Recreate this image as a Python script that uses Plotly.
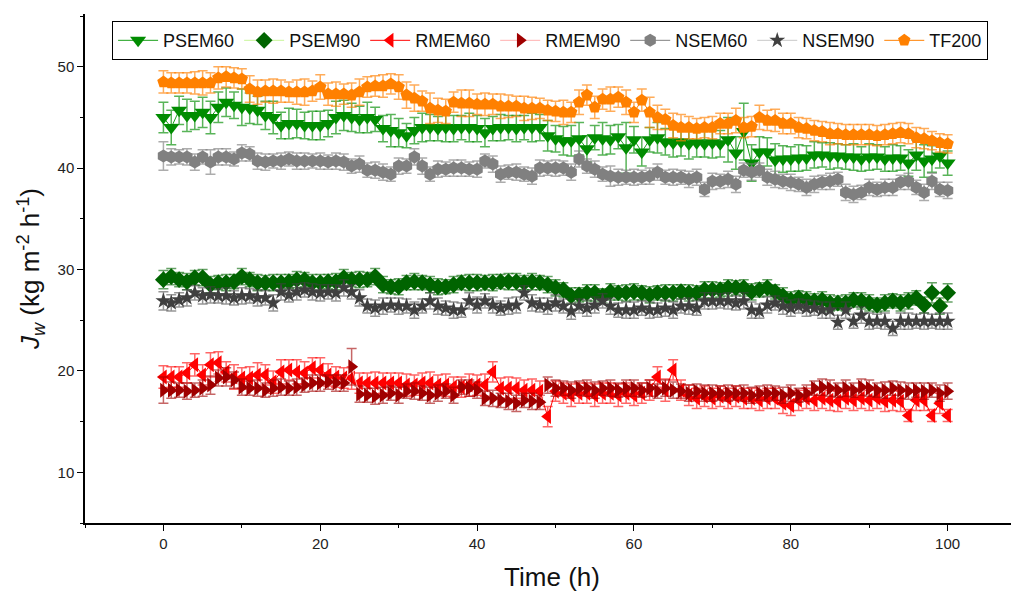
import plotly.graph_objects as go

time_h = list(range(0, 101))

PSEM60 = [45.0, 44.0, 45.7, 45.2, 45.2, 45.5, 45.0, 46.0, 46.5, 46.2,
          46.0, 45.9, 45.7, 45.2, 45.0, 44.2, 44.4, 44.4, 44.2, 44.2,
          44.2, 44.4, 45.0, 45.2, 45.0, 44.8, 45.0, 44.8, 43.9, 43.7,
          43.5, 43.2, 43.7, 44.0, 44.0, 43.9, 44.0, 43.9, 44.0, 44.0,
          43.9, 43.5, 43.9, 44.0, 44.0, 43.9, 44.0, 44.0, 44.0, 43.2,
          42.9, 42.7, 42.7, 42.9, 41.9, 43.0, 42.9, 42.8, 43.1, 42.0,
          42.8, 41.6, 42.8, 43.0, 42.6, 42.5, 42.6, 42.4, 42.5, 42.4,
          42.5, 42.4, 42.8, 41.5, 43.6, 40.5, 41.6, 41.6, 40.8, 40.9,
          40.9, 41.0, 41.0, 41.3, 41.3, 41.2, 41.2, 41.1, 41.1, 40.9,
          41.1, 41.1, 40.9, 41.0, 41.0, 40.5, 41.3, 40.7, 40.9, 41.2,
          40.5]
PSEM60_err = [1.5, 1.7, 1.4, 1.6, 1.4, 1.5, 1.6, 1.5, 1.4, 1.3,
              1.8, 1.5, 1.4, 1.4, 1.6, 1.3, 1.5, 1.4, 1.3, 1.4,
              1.4, 1.3, 1.6, 1.5, 1.4, 1.3, 1.5, 1.2, 1.3, 1.6,
              1.4, 1.2, 1.3, 1.4, 1.3, 1.2, 1.4, 1.3, 1.2, 1.4,
              1.3, 1.4, 1.2, 1.3, 1.2, 1.3, 1.2, 1.4, 1.3, 1.5,
              1.3, 1.4, 1.5, 1.6, 1.3, 1.2, 1.6, 1.4, 1.2, 2.5,
              1.3, 1.4, 1.2, 1.5, 1.3, 1.4, 1.4, 1.5, 1.4, 1.3,
              1.5, 1.3, 2.2, 1.6, 2.8, 1.8, 1.5, 1.4, 1.6, 1.3,
              1.2, 1.3, 1.2, 1.3, 1.2, 1.3, 1.2, 1.2, 1.3, 1.2,
              1.3, 1.2, 1.2, 1.3, 1.2, 1.3, 1.5, 1.6, 1.3, 1.2,
              1.2]

PSEM90 = [29.0, 29.3, 29.0, 28.8, 29.2, 29.2, 28.5, 28.7, 28.7, 28.8,
          29.3, 29.0, 28.7, 28.7, 28.7, 28.7, 28.8, 29.0, 29.0, 28.7,
          28.7, 28.8, 28.8, 29.2, 29.0, 29.0, 29.0, 29.3, 28.5, 28.3,
          28.3, 28.7, 28.8, 28.7, 28.5, 28.3, 28.3, 28.5, 28.7, 28.7,
          28.7, 28.7, 28.7, 28.8, 28.8, 28.8, 28.7, 28.8, 28.7, 28.5,
          28.2, 28.0, 27.4, 27.5, 27.7, 27.7, 27.4, 27.8, 27.7, 27.7,
          27.8, 27.7, 27.5, 27.7, 27.7, 27.7, 27.8, 27.7, 27.7, 28.0,
          28.0, 28.0, 28.2, 28.2, 28.2, 27.8, 28.0, 28.2, 27.8, 27.4,
          27.0, 27.2, 27.0, 26.9, 27.0, 26.7, 26.7, 26.7, 27.0, 26.9,
          26.7, 26.5, 26.7, 26.9, 26.7, 26.9, 27.2, 26.5, 27.7, 26.4,
          27.7]
PSEM90_err = [0.9, 0.8, 0.7, 0.8, 0.7, 0.8, 0.8, 0.7, 0.8, 0.7,
              0.8, 0.7, 0.8, 0.7, 0.8, 0.8, 0.7, 0.8, 0.7, 0.8,
              0.8, 0.7, 0.8, 0.8, 0.7, 0.8, 0.7, 0.8, 0.8, 0.7,
              0.8, 0.7, 0.8, 0.7, 0.8, 0.8, 0.7, 0.8, 0.7, 0.8,
              0.8, 0.7, 0.8, 0.7, 0.8, 0.8, 0.7, 0.8, 0.7, 0.8,
              0.8, 0.7, 0.8, 0.7, 0.8, 0.8, 0.7, 0.8, 0.7, 0.8,
              0.8, 0.7, 0.8, 0.7, 0.8, 0.8, 0.7, 0.8, 0.7, 0.8,
              0.8, 0.7, 0.8, 0.7, 0.8, 0.8, 0.7, 0.8, 0.7, 0.8,
              0.8, 0.7, 0.8, 0.7, 0.8, 0.8, 0.7, 0.8, 0.7, 0.8,
              0.8, 0.7, 0.8, 0.7, 0.8, 0.8, 0.7, 0.8, 1.0, 0.8,
              0.9]

RMEM60 = [19.4, 19.4, 19.4, 19.8, 20.6, 19.6, 20.6, 20.8, 19.9, 19.4,
          19.3, 19.3, 19.6, 19.6, 18.9, 19.9, 20.1, 19.9, 19.8, 20.3,
          20.1, 19.6, 19.4, 19.3, 19.3, 18.8, 18.8, 18.8, 18.8, 18.8,
          18.8, 18.6, 18.6, 18.8, 18.8, 18.6, 18.6, 18.4, 18.4, 18.6,
          18.6, 18.6, 19.9, 18.3, 18.3, 18.3, 18.1, 18.1, 18.0, 15.5,
          18.0, 17.8, 17.6, 17.8, 17.8, 17.6, 17.8, 17.8, 17.6, 17.8,
          17.6, 17.8, 18.1, 19.4, 18.1, 20.1, 18.1, 17.6, 17.3, 17.5,
          17.3, 17.5, 17.3, 17.5, 17.3, 17.3, 17.1, 17.3, 17.3, 16.8,
          16.6, 17.1, 17.3, 17.1, 17.3, 17.1, 17.0, 17.3, 17.1, 17.3,
          17.1, 17.3, 17.0, 17.1, 17.0, 15.6, 17.1, 17.1, 15.6, 16.8,
          15.6]
RMEM60_err = [1.1, 1.0, 1.0, 1.0, 1.1, 1.0, 1.2, 1.1, 1.0, 1.2,
              1.0, 1.1, 1.2, 1.0, 1.1, 1.2, 1.0, 1.2, 1.1, 1.0,
              1.2, 1.1, 1.0, 1.0, 1.1, 1.0, 1.0, 1.1, 1.0, 1.0,
              1.0, 1.1, 1.0, 1.0, 1.1, 1.0, 1.1, 1.0, 1.0, 1.1,
              1.0, 1.1, 1.0, 1.0, 1.1, 1.0, 1.0, 1.1, 1.0, 1.0,
              1.0, 1.0, 1.1, 1.0, 1.0, 1.1, 1.0, 1.0, 1.1, 1.0,
              1.0, 1.0, 1.0, 1.0, 1.1, 1.0, 1.0, 1.0, 1.0, 1.0,
              1.0, 1.0, 1.0, 1.0, 1.0, 1.0, 1.0, 1.0, 1.0, 1.0,
              1.0, 1.0, 1.0, 1.0, 1.0, 1.0, 1.0, 1.0, 1.0, 1.0,
              1.0, 1.0, 1.0, 1.0, 1.0, 0.6, 1.0, 1.0, 0.6, 1.0,
              0.6]

RMEM90 = [18.1, 18.1, 18.1, 18.0, 18.1, 18.3, 18.6, 19.3, 19.4, 19.1,
          18.4, 18.3, 18.3, 18.1, 18.3, 18.4, 18.3, 18.4, 18.6, 18.8,
          18.8, 18.9, 18.8, 18.8, 20.4, 17.7, 17.6, 17.5, 17.6, 17.8,
          17.6, 18.0, 18.0, 17.8, 17.6, 17.8, 18.0, 17.6, 18.4, 18.3,
          18.1, 17.3, 17.3, 17.1, 17.0, 16.8, 17.1, 17.0, 16.9, 18.6,
          18.3, 18.3, 18.1, 18.3, 18.3, 18.1, 18.3, 18.3, 18.1, 18.3,
          18.3, 18.1, 18.3, 18.0, 18.3, 18.1, 18.0, 17.8, 18.0, 17.8,
          17.8, 17.8, 17.8, 17.8, 17.8, 17.6, 17.8, 17.8, 17.8, 17.6,
          17.8, 17.6, 17.8, 18.3, 18.4, 18.3, 18.1, 18.3, 18.1, 18.4,
          18.3, 18.1, 18.1, 18.3, 18.1, 18.0, 18.1, 18.0, 18.1, 17.8,
          18.0]
RMEM90_err = [1.3, 0.8, 0.7, 0.8, 0.7, 0.8, 0.9, 0.8, 0.9, 0.8,
              0.8, 0.7, 0.8, 0.7, 0.8, 0.8, 0.7, 0.8, 0.7, 0.8,
              0.8, 0.7, 0.8, 0.8, 1.8, 0.8, 0.7, 0.8, 0.8, 0.7,
              0.8, 0.7, 0.8, 0.7, 0.8, 0.8, 0.7, 0.8, 0.7, 0.8,
              0.8, 0.7, 0.8, 0.7, 0.8, 0.8, 0.7, 0.8, 0.7, 0.8,
              0.8, 0.7, 0.8, 0.7, 0.8, 0.8, 0.7, 0.8, 0.7, 0.8,
              0.8, 0.7, 0.8, 0.7, 0.8, 0.8, 0.7, 0.8, 0.7, 0.8,
              0.8, 0.7, 0.8, 0.7, 0.8, 0.8, 0.7, 0.8, 0.7, 0.8,
              0.8, 0.7, 0.8, 0.7, 0.8, 0.8, 0.7, 0.8, 0.7, 0.8,
              0.8, 0.7, 0.8, 0.7, 0.8, 0.8, 0.7, 0.8, 0.7, 0.8,
              0.8]

NSEM60 = [41.2, 41.1, 41.1, 41.1, 40.6, 41.1, 40.6, 41.1, 41.1, 40.9,
          41.5, 41.4, 40.7, 40.6, 40.7, 40.7, 40.9, 40.7, 40.7, 40.7,
          40.7, 40.6, 40.7, 40.6, 40.2, 40.4, 39.8, 39.8, 39.6, 39.4,
          40.2, 40.2, 41.1, 40.2, 39.4, 39.9, 39.9, 40.0, 40.0, 39.9,
          39.9, 40.7, 40.4, 39.4, 39.6, 39.6, 39.4, 39.2, 40.0, 40.0,
          40.0, 40.0, 39.6, 40.9, 40.2, 39.9, 39.4, 39.2, 39.1, 39.1,
          39.1, 39.1, 39.2, 39.6, 39.1, 39.1, 39.1, 38.9, 39.1, 37.9,
          38.7, 38.7, 38.9, 38.4, 39.8, 39.6, 39.8, 39.1, 38.9, 38.7,
          38.6, 38.4, 38.1, 38.4, 38.6, 38.7, 38.9, 37.6, 37.4, 37.6,
          38.1, 37.9, 38.1, 38.1, 38.6, 38.7, 38.1, 37.6, 38.7, 37.9,
          37.8]
NSEM60_err = [1.4, 0.8, 0.7, 0.8, 0.8, 0.7, 1.2, 0.8, 0.8, 0.7,
              0.8, 0.7, 0.8, 0.8, 0.7, 0.8, 0.7, 0.8, 0.8, 0.7,
              0.8, 0.7, 0.8, 0.8, 0.7, 0.8, 0.7, 0.8, 0.8, 0.7,
              0.8, 0.7, 0.8, 0.8, 0.7, 0.8, 0.7, 0.8, 0.8, 0.7,
              0.8, 0.7, 0.8, 0.8, 0.7, 0.8, 0.7, 0.8, 0.8, 0.7,
              0.8, 0.7, 0.8, 0.8, 0.7, 0.8, 0.7, 1.0, 0.8, 0.7,
              0.8, 0.7, 0.8, 0.8, 0.7, 0.8, 0.7, 0.8, 0.8, 0.7,
              0.8, 0.7, 0.8, 0.8, 0.7, 0.8, 0.7, 0.8, 0.8, 0.7,
              0.8, 0.7, 0.8, 0.8, 0.7, 0.8, 0.7, 0.8, 0.8, 0.7,
              0.8, 0.7, 0.8, 0.8, 0.7, 0.8, 0.7, 0.8, 0.8, 0.7,
              0.8]

NSEM90 = [26.9, 26.7, 27.0, 27.2, 27.7, 27.4, 27.5, 27.4, 27.4, 27.2,
          27.4, 27.4, 27.2, 27.2, 26.7, 27.8, 27.5, 27.8, 28.0, 27.8,
          27.7, 27.8, 27.7, 28.2, 27.8, 27.2, 26.4, 26.2, 26.4, 26.5,
          26.4, 26.4, 26.0, 26.4, 26.9, 26.4, 26.2, 26.0, 26.0, 26.9,
          26.5, 26.9, 26.5, 26.2, 26.4, 26.5, 27.7, 26.7, 26.5, 26.4,
          26.7, 26.4, 25.9, 26.4, 26.2, 26.5, 26.9, 26.4, 26.0, 26.0,
          26.0, 26.2, 26.0, 26.0, 26.2, 26.0, 26.4, 26.4, 26.2, 26.9,
          26.9, 26.9, 26.9, 26.7, 26.9, 26.0, 25.9, 26.5, 26.7, 26.4,
          26.2, 26.4, 26.2, 26.2, 26.0, 26.0, 24.8, 26.0, 24.9, 25.5,
          24.9, 24.9, 24.9, 24.2, 24.9, 24.9, 24.9, 24.9, 24.9, 24.9,
          24.9]
NSEM90_err = [0.9, 0.8, 0.7, 0.8, 0.7, 0.8, 0.8, 0.7, 0.8, 0.7,
              0.8, 0.7, 0.8, 0.7, 0.8, 0.8, 0.7, 0.8, 0.7, 0.8,
              0.8, 0.7, 0.8, 0.8, 0.7, 0.8, 0.7, 0.8, 0.8, 0.7,
              0.8, 0.7, 0.8, 0.7, 0.8, 0.8, 0.7, 0.8, 0.7, 0.8,
              0.8, 0.7, 0.8, 0.7, 0.8, 0.8, 0.7, 0.8, 0.7, 0.8,
              0.8, 0.7, 0.8, 0.7, 0.8, 0.8, 0.7, 0.8, 0.7, 0.8,
              0.8, 0.7, 0.8, 0.7, 0.8, 0.8, 0.7, 0.8, 0.7, 0.8,
              0.8, 0.7, 0.8, 0.7, 0.8, 0.8, 0.7, 0.8, 0.7, 0.8,
              0.8, 0.7, 0.8, 0.7, 0.8, 0.8, 0.7, 0.8, 0.7, 0.8,
              0.8, 0.7, 0.8, 0.7, 0.8, 0.8, 0.7, 0.8, 0.7, 0.8,
              0.8]

TF200 = [48.5, 48.4, 48.4, 48.4, 48.4, 48.4, 48.4, 48.9, 49.0, 48.9,
         48.8, 47.8, 47.5, 47.6, 47.6, 47.6, 47.5, 47.5, 47.5, 47.6,
         48.0, 47.3, 47.3, 47.3, 47.2, 47.5, 48.0, 48.1, 48.1, 48.3,
         48.0, 47.2, 46.9, 46.6, 45.9, 45.7, 45.6, 46.5, 46.4, 46.4,
         46.3, 46.3, 46.3, 46.1, 46.1, 46.1, 45.9, 45.9, 45.9, 45.7,
         45.6, 45.5, 45.5, 46.5, 47.2, 46.0, 46.8, 46.8, 47.0, 46.5,
         45.5, 46.7, 45.5, 45.0, 44.8, 44.2, 44.0, 44.0, 43.9, 44.0,
         44.0, 44.4, 44.4, 44.7, 44.0, 44.1, 45.0, 44.7, 44.7, 44.4,
         44.4, 44.0, 43.9, 43.7, 43.6, 43.4, 43.4, 43.3, 43.3, 43.3,
         43.3, 43.2, 43.3, 43.4, 43.5, 43.4, 43.0, 42.9, 42.7, 42.5,
         42.4]
TF200_err = [1.1, 1.0, 1.0, 1.0, 1.1, 1.2, 1.0, 1.1, 1.0, 1.0,
             1.0, 1.3, 1.2, 1.1, 1.2, 1.1, 1.0, 1.2, 1.3, 1.0,
             1.2, 1.1, 1.2, 1.0, 1.2, 1.3, 1.0, 1.0, 1.1, 1.0,
             1.2, 1.3, 1.3, 1.0, 1.5, 1.2, 1.2, 1.0, 1.3, 1.3,
             1.0, 1.1, 1.0, 1.2, 1.1, 1.0, 1.2, 1.1, 1.0, 1.0,
             1.0, 1.2, 1.0, 1.2, 1.0, 1.1, 1.0, 1.2, 1.0, 1.2,
             1.0, 1.1, 1.5, 1.2, 1.0, 1.2, 1.3, 1.1, 1.0, 1.0,
             1.1, 1.0, 1.0, 1.2, 1.0, 1.0, 1.2, 1.0, 1.1, 1.0,
             1.0, 1.0, 1.0, 1.0, 1.0, 1.1, 1.0, 1.0, 1.0, 1.0,
             1.0, 1.0, 1.0, 1.0, 1.0, 1.0, 1.0, 1.0, 0.9, 0.9,
             0.9]

series_names = ["PSEM60", "PSEM90", "RMEM60", "RMEM90", "NSEM60", "NSEM90", "TF200"]
series_values = [PSEM60, PSEM90, RMEM60, RMEM90, NSEM60, NSEM90, TF200]
series_errors = [PSEM60_err, PSEM90_err, RMEM60_err, RMEM90_err, NSEM60_err, NSEM90_err, TF200_err]

styles = {
    "PSEM60": dict(symbol="triangle-down", mcolor="#008c00", lcolor="#1aa01a", ecolor="rgba(0,140,0,0.65)", size=14),
    "PSEM90": dict(symbol="diamond", mcolor="#006400", lcolor="#c8f59a", ecolor="rgba(0,100,0,0.6)", size=13),
    "RMEM60": dict(symbol="triangle-left", mcolor="#ff0000", lcolor="#ff0000", ecolor="rgba(255,0,0,0.6)", size=13),
    "RMEM90": dict(symbol="triangle-right", mcolor="#a00000", lcolor="#ffb0b0", ecolor="rgba(160,0,0,0.6)", size=13),
    "NSEM60": dict(symbol="hexagon", mcolor="#808080", lcolor="#808080", ecolor="rgba(128,128,128,0.65)", size=13),
    "NSEM90": dict(symbol="star", mcolor="#404040", lcolor="#c8c8c8", ecolor="rgba(64,64,64,0.55)", size=12),
    "TF200": dict(symbol="pentagon", mcolor="#ff8000", lcolor="#ff8000", ecolor="rgba(255,128,0,0.65)", size=13),
}

fig = go.Figure()
for name, vals, errs in zip(series_names, series_values, series_errors):
    st = styles[name]
    fig.add_trace(go.Scatter(
        x=time_h, y=vals, name=name, mode="lines+markers",
        line=dict(color=st["lcolor"], width=1),
        marker=dict(symbol=st["symbol"], color=st["mcolor"], size=st["size"], line=dict(width=0)),
        error_y=dict(type="data", array=errs, visible=True, color=st["ecolor"], thickness=1.5, width=5),
    ))

axis_font = dict(family="Liberation Sans, Arial, sans-serif", size=15, color="#222222")
fig.update_layout(
    width=1011, height=586,
    paper_bgcolor="white", plot_bgcolor="white",
    margin=dict(l=77, r=0, t=6, b=71, autoexpand=False),
    font=dict(family="Liberation Sans, Arial, sans-serif", color="#111111"),
    showlegend=True,
    legend=dict(
        orientation="h", x=0.029, xanchor="left", y=0.986, yanchor="top",
        bordercolor="black", borderwidth=1, bgcolor="white",
        font=dict(size=18, family="Liberation Sans, Arial, sans-serif", color="#111111"),
        itemwidth=40, tracegroupgap=0,
    ),
    xaxis=dict(
        range=[-10, 109.1], tick0=0, dtick=20, showgrid=False, zeroline=False,
        showline=True, linecolor="black", linewidth=1.5, automargin=False,
        ticks="outside", ticklen=6, tickwidth=1, tickcolor="black",
        minor=dict(ticks="outside", ticklen=3, dtick=10, tick0=0, tickcolor="black"),
        tickfont=axis_font,
        title=dict(text="Time (h)", font=dict(size=26, color="#111111"), standoff=17),
    ),
    yaxis=dict(
        range=[5, 55.2], tick0=0, dtick=10, showgrid=False, zeroline=False,
        showline=True, linecolor="black", linewidth=1.5, automargin=False,
        ticks="outside", ticklen=6, tickwidth=1, tickcolor="black",
        minor=dict(ticks="outside", ticklen=3, dtick=5, tick0=0, tickcolor="black"),
        tickfont=axis_font,
        title=dict(text="<i>J<sub>w</sub></i> (kg m<sup>-2</sup> h<sup>-1</sup>)",
                   font=dict(size=26, color="#111111"), standoff=10),
    ),
)

fig.write_html("out.html")
